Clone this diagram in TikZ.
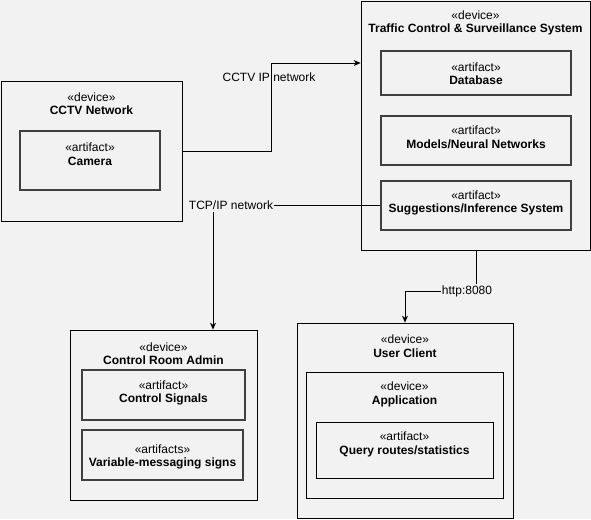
\documentclass[tikz,border=0pt]{standalone}
\usepackage{fontspec}
\setmainfont{Liberation Sans}
\usetikzlibrary{arrows.meta}
\definecolor{bgcol}{HTML}{F2F2F2}
\tikzset{
  devbox/.style={draw=black,line width=0.8pt,inner sep=0pt},
  artbox/.style={draw=black!75,line width=1.2pt,inner sep=0pt},
  stereo/.style={align=center,inner sep=0pt,yshift=-1.5pt,font=\fontsize{12}{13.5}\selectfont},
  linklab/.style={inner sep=1pt,font=\fontsize{12}{13.5}\selectfont},
  conn/.style={line width=0.8pt},
  connarr/.style={conn,-{Stealth[length=7pt,width=6pt]}}
}
\begin{document}
\begin{tikzpicture}[x=1pt,y=-1pt]
  \fill[bgcol] (0,0) rectangle (591,519);
  \useasboundingbox (0,0) rectangle (591,519);
  \node[devbox,minimum width=229pt,minimum height=249pt] (tcss) at (475.5,125.5) {};
  \node[stereo] (tcss-l) at (475.5,21.5) {«device»\\\textbf{Traffic Control \& Surveillance System}};
  \node[artbox,minimum width=190pt,minimum height=44pt] (db) at (476,73) {};
  \node[stereo] (db-l) at (476,72) {«artifact»\\\textbf{Database}};
  \node[artbox,minimum width=190pt,minimum height=49pt] (models) at (476,140.5) {};
  \node[stereo] (models-l) at (476,136) {«artifact»\\\textbf{Models/Neural Networks}};
  \node[artbox,minimum width=190pt,minimum height=49pt] (sugg) at (476,205.5) {};
  \node[stereo] (sugg-l) at (476,201.5) {«artifact»\\\textbf{Suggestions/Inference System}};
  \node[devbox,minimum width=181pt,minimum height=140pt] (cctv) at (91.5,151) {};
  \node[stereo] (cctv-l) at (91.5,102) {«device»\\\textbf{CCTV Network}};
  \node[artbox,minimum width=140pt,minimum height=59pt] (cam) at (90,160.5) {};
  \node[stereo] (cam-l) at (90,152.5) {«artifact»\\\textbf{Camera}};
  \node[devbox,minimum width=187pt,minimum height=170pt] (cra) at (163.5,415) {};
  \node[stereo] (cra-l) at (163.5,352) {«device»\\\textbf{Control Room Admin}};
  \node[artbox,minimum width=163pt,minimum height=50pt] (csig) at (163.5,395) {};
  \node[stereo] (csig-l) at (163.5,391.5) {«artifact»\\\textbf{Control Signals}};
  \node[artbox,minimum width=161pt,minimum height=50pt] (vms) at (162.5,455) {};
  \node[stereo] (vms-l) at (162.5,455.5) {«artifacts»\\\textbf{Variable-messaging signs}};
  \node[devbox,minimum width=216pt,minimum height=195pt] (uc) at (405,420.5) {};
  \node[stereo] (uc-l) at (405,344.5) {«device»\\\textbf{User Client}};
  \node[devbox,minimum width=197pt,minimum height=126pt] (app) at (404.5,435) {};
  \node[stereo] (app-l) at (404.5,393) {«device»\\\textbf{Application}};
  \node[devbox,minimum width=177pt,minimum height=56pt] (query) at (404.5,450) {};
  \node[stereo] (query-l) at (404.5,443) {«artifact»\\\textbf{Query routes/statistics}};
  \coordinate (cctvbend) at (271,63);
  \coordinate (tcpdrop) at (213,212);
  \coordinate (httpbend) at (476,291);
  \node[linklab] (cctvlab) at (269,77) {CCTV IP network};
  \node[linklab] (tcplab) at (231,205.5) {TCP/IP network};
  \draw[conn] (cctv.east) -| (cctvbend);
  \draw[connarr] (cctvbend) -- (cctvbend -| tcss.west);
  \draw[conn] (sugg.west) -- (tcplab.east);
  \draw[connarr] (tcpdrop) -- (tcpdrop |- cra.north);
  \draw[conn] (httpbend |- tcss.south) -- (httpbend);
  \draw[connarr] (httpbend) -| (uc.north);
  \node[linklab,fill=bgcol] (httplab) at (467,291) {http:8080};
\end{tikzpicture}
\end{document}
